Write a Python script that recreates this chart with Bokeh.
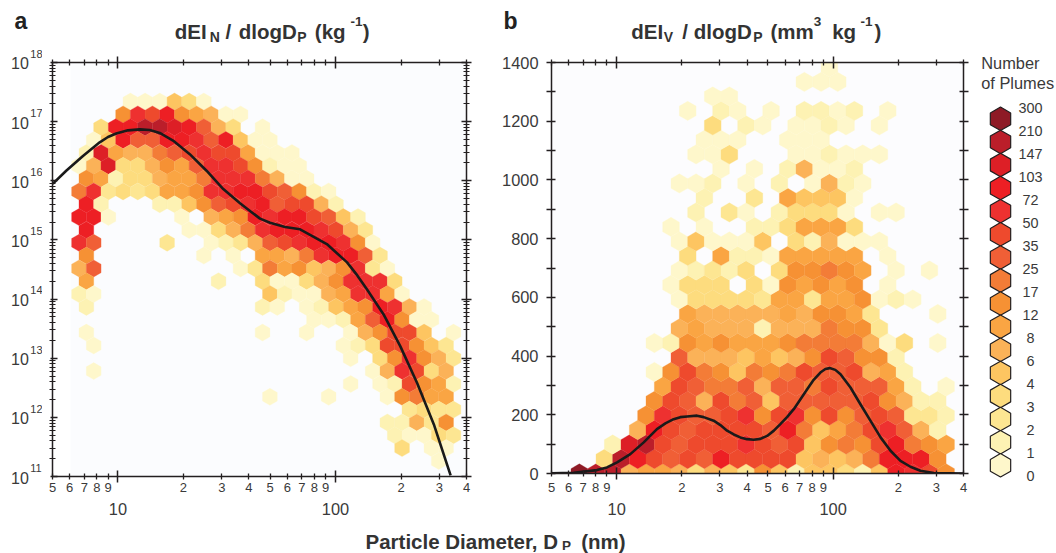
from bokeh.plotting import figure
from bokeh.layouts import row, column
from bokeh.models import (LogAxis, LinearAxis, FixedTicker, Range1d, BoxAnnotation,
                          CustomJSTickFormatter, ColumnDataSource)
from bokeh.core.properties import value
from bokeh.embed import file_html
from bokeh.resources import INLINE
import math

# ---------- data ----------
legend_labels = ["300","210","147","103","72","50","35","25","17","12","8","6","4","3","2","1","0"]
level_colors = ["#FEF7CB","#FDF2B3","#FDE692","#FDDC7E","#FDC561","#FBB258","#FAA543","#F69134",
                "#F37C37","#F05F36","#EE4A2D","#EE3130","#ED1F24","#DD1F26","#BB1E2A","#8E1A26"]
LEVELS = "123456789abcdefg"

# number-density hex bins: row -> (first column, bin levels)
rows_a = {
 0:(0,"111541"), 1:(-1,"8cbd87611"), 2:(-2,"4ddffeda64.1"), 3:(-3,"15daaddcad511"),
 4:(-3,"2e7669abcbb7111"), 5:(-4,"16e44687accb8211"), 6:(-3,"872446779ccc9611"),
 7:(-4,"9c3434778ccddba821"), 8:(-3,"d2...2258abcdabb62"), 9:(-4,"dd1....1.678dcddba52"),
 10:(-3,"d......11469cdddcb63"), 11:(-4,"ca....3..1236abcddc81"), 12:(-3,"8.......1.1.7769cdda3"),
 13:(-4,"6a.........13978568c31"), 14:(-3,"7........2..411468ccc4"), 15:(-4,"21...........521167cc71"),
 16:(-3,"2...........21.12578dc61"), 17:(12,"1127ad811"),
 18:(-3,"1...........1..1..168bb5.1"), 19:(-3,"1................124bb853"),
 20:(15,"1.48c863"), 21:(-3,"1" + "." * 18 + "16cb46"), 22:(15,"1.12b872"),
 23:(9,"1...1...18977"), 24:(19,"3433"), 25:(17,"22638"), 26:(18,"21143"),
 27:(18,"4.11"), 28:(21,"1"),
}
# volume hex bins: row -> (first column, bin levels)
rows_b = {
 0:(-8,"gff6776465385255425dcb8"), 1:(-6,"4fdbabadbbbb56569ddd8"), 2:(-6,"2efbabbbcbab5898bd987"),
 3:(-4,"6dbabbbbad9579bca62"), 4:(-4,"8cbaabc8bc8b8aba332"), 5:(-3,"8ba6b9a5aaaaab8622"),
 6:(-3,"7ba99a6aa9baaa72.1"), 7:(-3,"18b985989baab672"), 8:(-2,"a66657568ba882"),
 9:(-3,"1287877789999614.1"), 10:(-2,"6766626669883"), 11:(-1,"766666768873...1"),
 12:(-2,"144443773778121"), 13:(-2,"1444.4187878.1"), 14:(-2,"12324.488987.1.1"),
 15:(-1,"4.722177777.1"), 16:(-2,"151115.426111"), 17:(-2,"1.1..2247774"),
 18:(-1,"2.31.24441.11"), 19:(0,"2..3.75551"), 20:(-2,"112.1.2.1621"), 21:(1,"1.1.26112"),
 22:(-1,"114...112111"), 23:(0,"111..111"), 24:(0,"4.21.1121.1"), 25:(-1,"1.21.1.2212.1"),
 26:(0,"11"), 27:(6,"111"), 28:(7,"1"),
}

curve_a_logd = [.700,.762,.839,.916,.954,.992,1.046,1.100,1.146,1.192,1.253,1.330,1.407,1.484,1.561,1.607,1.653,1.699,1.768,1.837,
                1.960,2.053,2.100,2.145,2.221,2.298,2.375,2.452,2.529]
curve_a_logv = [15.95,16.17,16.42,16.65,16.74,16.80,16.853,16.87,16.86,16.81,16.68,16.45,16.17,15.86,15.62,15.49,15.36,15.29,15.22,15.18,
                14.93,14.62,14.40,14.16,13.74,13.20,12.58,11.88,11.02]
curve_b_logd = [.698,.801,.909,.955,1.002,1.063,1.125,1.186,1.225,1.263,1.294,1.325,1.371,1.402,1.448,1.479,1.510,1.541,1.571,
                1.602,1.633,1.664,1.695,1.726,1.756,1.787,1.818,1.849,1.880,1.910,1.941,1.964,1.984,2.010,2.034,2.080,2.126,
                2.172,2.219,2.265,2.311,2.357,2.403,2.465,2.601]
curve_b_val = [0.3,2.5,11.6,20.7,37.7,66,106,151,170.5,185,192,194,197,192,180,165,146,133,123,
               117,115,118,128,146,168,192,219,253,287,319,344,356,359,353,338,293,236,
               180,123,77.5,43,23,9.3,1.4,0]

x_small_ticks = [5,6,7,8,9,20,30,40,50,60,70,80,90,200,300,400]
x_small_labels = ["5","6","7","8","9","2","3","4","5","6","7","8","9","2","3","4"]
x_decades = [10,100]
x_decade_labels = ["10","100"]
y_exponents = [11,12,13,14,15,16,17,18]
y_b_ticks = [0,200,400,600,800,1000,1200,1400]
y_b_minor = [100,300,500,700,900,1100,1300]

title_a = [("dEI",174.3,37.5,20.5),("N",209.3,41,14),("/",225,37.5,20.5),("dlogD",238.3,37.5,20.5),
           ("P",296.7,41,14),("(kg",314.3,37.5,20.5),("-1",350,25.5,13.5),(")",362.3,37.5,20.5)]
title_b = [("dEI",630.7,37.5,20.5),("V",663.3,41,14),("/",681.7,37.5,20.5),("dlogD",693.3,37.5,20.5),
           ("P",752.7,41,14),("(mm",770,37.5,20.5),("3",813.3,25.5,13.5),("kg",831.7,37.5,20.5),
           ("-1",860,25.5,13.5),(")",874,37.5,20.5)]

FONT = "Liberation Sans"
TEXT = "#3a3a3a"
BOLD = "#333333"
AX = "#231f20"

def lattice(rows, x0, dk, odd, y_of):
    xs, ys, cs = [], [], []
    for r, (start, s) in rows.items():
        for i, c in enumerate(s):
            if c == ".":
                continue
            k = start + i
            xs.append(10 ** (x0 + dk * k + (odd if r % 2 else 0)))
            ys.append(y_of(r))
            cs.append(level_colors[LEVELS.index(c)])
    return dict(x=xs, y=ys, c=cs)

blank = CustomJSTickFormatter(code="return ''")

def strip(w, h, xr, yr, yaxis="linear"):
    p = figure(width=w, height=h, x_range=xr, y_range=yr, y_axis_type=yaxis, toolbar_location=None,
               output_backend="svg", min_border=0, min_border_left=0, min_border_right=0, min_border_top=0,
               min_border_bottom=0, outline_line_color=None, frame_align=False)
    p.axis.visible = False
    p.grid.visible = False
    return p

def put(p, x, y, s, size, bold=False, base="baseline", align="left", color=None, dy=0):
    # y is the text baseline unless base="middle"
    if base == "baseline":
        y = y - 0.34 * size
    p.text([x], [y], text=[s], text_font=value(FONT), text_font_size=value(f"{size}px"),
           text_font_style="bold" if bold else "normal", text_align=align, text_baseline="middle",
           text_color=color or (BOLD if bold else TEXT), y_offset=dy)

def style(a, maj_in, maj_out, min_in, min_out, maj_w=1.3, min_w=1.3):
    a.major_tick_in = maj_in; a.major_tick_out = maj_out
    a.minor_tick_in = min_in; a.minor_tick_out = min_out
    a.axis_line_color = AX; a.major_tick_line_color = AX; a.minor_tick_line_color = AX
    a.axis_line_width = 1.5; a.major_tick_line_width = maj_w; a.minor_tick_line_width = min_w

def x_axes(p, standoff, dec_standoff):
    xa = p.xaxis[0]
    xa.ticker = FixedTicker(ticks=x_small_ticks, minor_ticks=x_decades)
    xa.major_label_overrides = {t: l for t, l in zip(x_small_ticks, x_small_labels)}
    xa.major_label_text_font = FONT
    xa.major_label_text_font_size = "13px"
    xa.major_label_text_color = TEXT
    xa.major_label_standoff = standoff
    top = LogAxis(ticker=FixedTicker(ticks=x_small_ticks, minor_ticks=x_decades), formatter=blank, major_label_standoff=0)
    p.add_layout(top, "above")
    for a in (xa, top):
        style(a, 3, 3, 6, 6, 1.3, 1.5)
    dec = LogAxis(ticker=FixedTicker(ticks=x_decades, minor_ticks=[]),
                  major_label_overrides={t: l for t, l in zip(x_decades, x_decade_labels)},
                  axis_line_color=None, major_tick_line_color=None, minor_tick_line_color=None,
                  major_tick_in=0, major_tick_out=0, minor_tick_in=0, minor_tick_out=0,
                  major_label_standoff=dec_standoff, major_label_text_font=FONT,
                  major_label_text_font_size="16.4px", major_label_text_color=TEXT)
    p.add_layout(dec, "below")

def panel(w, h, yaxis, yr, bl, br, bt, bb):
    p = figure(width=w, height=h, x_axis_type="log", y_axis_type=yaxis, x_range=Range1d(5, 400), y_range=yr,
               toolbar_location=None, output_backend="svg", min_border_left=bl, min_border_right=br,
               min_border_top=bt, min_border_bottom=bb, outline_line_color=None, frame_align=False)
    p.grid.visible = False
    return p

TITLE_H = 48
MID_H = 482   # rows from y=48 to y=530
FOOT_H = 23

# ---------- titles ----------
tf = strip(1056, TITLE_H, Range1d(0, 1056), Range1d(TITLE_H, 0))
put(tf, 14, 28.5, "a", 23, True, color="#222222")
put(tf, 503, 28.5, "b", 23, True, color="#222222")
for s, x, y, size in title_a + title_b:
    put(tf, x, y, s, size, True)

# ---------- panel a ----------
pa = panel(448, MID_H, "log", Range1d(1e11, 1e18), 10, 24, 14, MID_H - 14 - 414)
pa.add_layout(BoxAnnotation(left=6.05, right=400, fill_color="#fbfcfe", fill_alpha=1, line_color=None, level="underlay"))
src = lattice(rows_a, 1.0571, 0.0675, 0.03375, lambda r: 10 ** (17.339 - 0.217 * r))
pa.scatter("x", "y", source=ColumnDataSource(src), marker="hex", size=17, angle=math.pi / 6,
           fill_color="c", line_color="c", line_width=0.3)
pa.line([10 ** v for v in curve_a_logd], [10 ** v for v in curve_a_logv], line_color="#1a1a1a", line_width=2.6, line_join="round")
x_axes(pa, 0, 8)
minors = [k * 10 ** n for n in y_exponents[:-1] for k in range(2, 10)]
left = pa.yaxis[0]
left.ticker = FixedTicker(ticks=[10.0 ** n for n in y_exponents], minor_ticks=minors)
left.formatter = blank
left.major_label_standoff = 0
right = LogAxis(ticker=FixedTicker(ticks=[10.0 ** n for n in y_exponents], minor_ticks=minors), formatter=blank, major_label_standoff=0)
pa.add_layout(right, "right")
style(left, 5, 2, 3, 3, 1.4, 1.2)
style(right, 5, 5, 3, 3, 1.4, 1.2)

# exponent labels of panel a, on the same vertical scale
la = strip(42, MID_H, Range1d(0, 42), Range1d(10 ** 10.087, 10 ** 18.2367), "log")
for n in y_exponents:
    put(la, 28.3, 10.0 ** n, "10", 16, base="middle", align="right", dy=1)
    put(la, 29.8, 10.0 ** n, str(n), 11, base="middle", dy=-8.7)

# ---------- panel b ----------
pb = panel(485, MID_H, "linear", Range1d(0, 1400), 61, 12, 14, MID_H - 14 - 411)
pb.background_fill_color = "#fcfcfe"
src = lattice(rows_b, 1.4436, 0.0770, -0.0385, lambda r: 49.4 * r)
pb.scatter("x", "y", source=ColumnDataSource(src), marker="hex", size=19.3, angle=math.pi / 6,
           fill_color="c", line_color="c", line_width=0.3)
pb.line([10 ** v for v in curve_b_logd], curve_b_val, line_color="#1a1a1a", line_width=2.6, line_join="round")
x_axes(pb, 3, 8)
left = pb.yaxis[0]
left.ticker = FixedTicker(ticks=y_b_ticks, minor_ticks=y_b_minor)
left.major_label_text_font = FONT
left.major_label_text_font_size = "16.4px"
left.major_label_text_color = TEXT
left.major_label_standoff = 8
right = LinearAxis(ticker=FixedTicker(ticks=y_b_ticks, minor_ticks=y_b_minor), formatter=blank, major_label_standoff=0)
pb.add_layout(right, "right")
style(left, 4, 5, 4, 5)
style(right, 4, 5, 4, 5)

# ---------- legend ----------
pl = strip(81, MID_H, Range1d(975, 1056), Range1d(530, 48))
for i, s in enumerate(legend_labels):
    put(pl, 1030, 107.7 + 22.96 * i, s, 14.4, base="middle", align="center")
put(pl, 980.7, 62, "Number", 16.4, base="middle")
put(pl, 980.7, 82, "of Plumes", 16.4, base="middle")
pl.scatter([1000] * 16, [118.3 + 23.1 * i for i in range(16)], marker="hex", size=23.5, angle=math.pi / 6,
           fill_color=level_colors[::-1], line_color="#231f20", line_width=1.2)

# ---------- shared x label ----------
pf = strip(1056, FOOT_H, Range1d(0, 1056), Range1d(553, 530))
put(pf, 365, 548, "Particle Diameter, D", 20.5, True)
put(pf, 561.5, 550, "P", 13.5, True)
put(pf, 580.7, 548, "(nm)", 20.5, True)

page = column(tf, row(la, pa, pb, pl, spacing=0), pf, spacing=0)
open("out.html", "w").write(file_html(page, INLINE))
